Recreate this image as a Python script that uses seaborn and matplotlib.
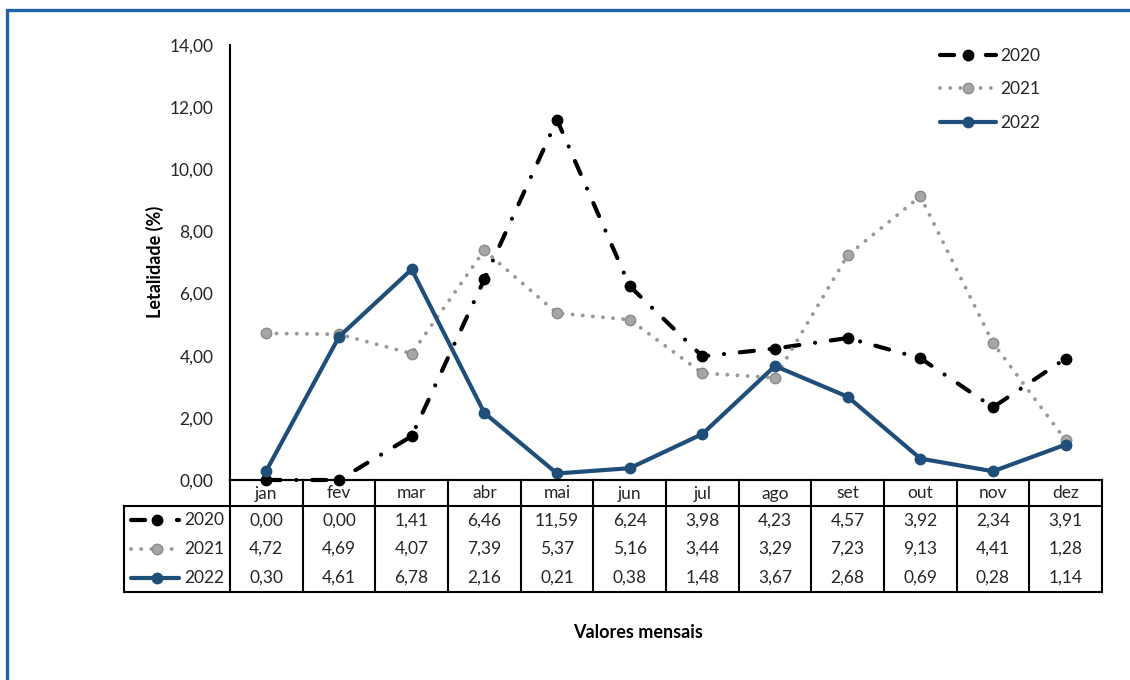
import numpy as np
import pandas as pd
import matplotlib
matplotlib.use("Agg")
import matplotlib.pyplot as plt
from matplotlib.patches import Rectangle
import seaborn as sns

# Monthly lethality (%) by year
months = ["jan", "fev", "mar", "abr", "mai", "jun", "jul", "ago", "set", "out", "nov", "dez"]
years = ["2020", "2021", "2022"]
vals_2020 = [0.00, 0.00, 1.41, 6.46, 11.59, 6.24, 3.98, 4.23, 4.57, 3.92, 2.34, 3.91]
vals_2021 = [4.72, 4.69, 4.07, 7.39, 5.37, 5.16, 3.44, 3.29, 7.23, 9.13, 4.41, 1.28]
vals_2022 = [0.30, 4.61, 6.78, 2.16, 0.21, 0.38, 1.48, 3.67, 2.68, 0.69, 0.28, 1.14]
yticks = [0, 2, 4, 6, 8, 10, 12, 14]

series = {"2020": vals_2020, "2021": vals_2021, "2022": vals_2022}
df = pd.DataFrame(
    [(y, i, v) for y in years for i, v in enumerate(series[y])],
    columns=["ano", "mes", "letalidade"],
)

sns.set_theme(style="white")
plt.rcParams["font.family"] = ["Lato", "DejaVu Sans"]
TXT = "#262626"
FS = 12.5
FSB = 13

W, H = 1130, 680
fig = plt.figure(figsize=(W / 100, H / 100), dpi=100)


def fx(x):
    return x / W


def fy(y):
    return 1 - y / H


# outer frame
fig.patches.append(Rectangle((fx(7), fy(700)), fx(1140) - fx(7), fy(10) - fy(700),
                             transform=fig.transFigure, fill=False,
                             edgecolor="#2161a6", linewidth=2.4, clip_on=False))

styles = {
    "2020": dict(color="black", lw=3.0, dashes=(3.4, 3.8, 0.01, 3.8),
                 mfc="black", mec="black", ms=7.5),
    "2021": dict(color="#999999", lw=2.8, dashes=(0.01, 2.6),
                 mfc="#a6a6a6", mec="#8a8a8a", ms=7.5),
    "2022": dict(color="#1f4e79", lw=3.0, dashes=None,
                 mfc="#1f4e79", mec="#1f4e79", ms=7.5),
}

ax = fig.add_axes([fx(230), fy(480), fx(1102) - fx(230), fy(45) - fy(480)])
for y in years:
    st = styles[y]
    sns.lineplot(data=df[df["ano"] == y], x="mes", y="letalidade", ax=ax,
                 color=st["color"], linewidth=st["lw"], marker="o",
                 markersize=st["ms"], markerfacecolor=st["mfc"],
                 markeredgecolor=st["mec"], markeredgewidth=1.0,
                 label=y, clip_on=False)
    line = ax.lines[-1]
    line.set_solid_capstyle("round")
    line.set_dash_capstyle("round")
    if st["dashes"] is not None:
        line.set_dashes(st["dashes"])

ax.set_xlim(-0.5, 11.5)
ax.set_ylim(0, 14)
ax.set_yticks(yticks)
ax.set_yticklabels([f"{v:.2f}".replace(".", ",") for v in yticks], fontsize=FS, color=TXT)
ax.tick_params(axis="y", length=0, pad=12)
ax.set_xticks([])
ax.set_xlabel("")
ax.set_ylabel("")
for s in ["top", "right"]:
    ax.spines[s].set_visible(False)
ax.spines["left"].set_color("black")
ax.spines["left"].set_linewidth(1.5)
ax.spines["bottom"].set_color("black")
ax.spines["bottom"].set_linewidth(1.5)

leg = ax.legend(loc="upper left", bbox_to_anchor=(fx(940), fy(48)),
                bbox_transform=fig.transFigure, frameon=False, fontsize=FS,
                handlelength=3.2, handletextpad=0.25, labelspacing=1.0,
                borderpad=0, borderaxespad=0)
for t in leg.get_texts():
    t.set_color(TXT)

fig.text(fx(155), fy(262), "Letalidade (%)", rotation=90, ha="center", va="center",
         fontsize=FSB, fontweight="bold", color="black")
fig.text(fx(638), fy(633), "Valores mensais", ha="center", va="center",
         fontsize=FSB, fontweight="bold", color="black")

# data table below the plot, sharing the month columns
colw = (1102 - 230) / 12
xleft = -0.5 - (230 - 124) / colw
tab = fig.add_axes([fx(124), fy(592), fx(1102) - fx(124), fy(480) - fy(592)])
tab.set_xlim(xleft, 11.5)
tab.set_ylim(112, 0)
tab.axis("off")
row_h = (112 - 26) / 3
kw = dict(color="black", lw=1.5, clip_on=False, solid_capstyle="projecting")
for i in range(13):
    tab.plot([-0.5 + i, -0.5 + i], [0, 112], **kw)
tab.plot([xleft, xleft], [26, 112], **kw)
tab.plot([-0.5, 11.5], [0, 0], **kw)
tab.plot([xleft, 11.5], [26, 26], **kw)
tab.plot([xleft, 11.5], [112, 112], **kw)

for i, m in enumerate(months):
    tab.text(i, 13.5, m, ha="center", va="center", fontsize=FS, color=TXT)

for r, y in enumerate(years):
    yc = 26 + row_h * (r + 0.5)
    st = styles[y]
    key, = tab.plot([xleft + 0.09, xleft + 0.76], [yc, yc], color=st["color"],
                    lw=st["lw"], clip_on=False, solid_capstyle="round",
                    dash_capstyle="round")
    if st["dashes"] is not None:
        key.set_dashes(st["dashes"])
    tab.plot([xleft + 0.45], [yc], marker="o", ms=st["ms"], mfc=st["mfc"],
             mec=st["mec"], mew=1.0, ls="none", clip_on=False)
    tab.text(xleft + 1.385, yc, y, ha="right", va="center", fontsize=FS, color=TXT)
    for i, v in enumerate(series[y]):
        tab.text(i, yc, f"{v:.2f}".replace(".", ","), ha="center", va="center",
                 fontsize=FS, color=TXT)

fig.savefig("out.png", dpi=100, facecolor="white")
